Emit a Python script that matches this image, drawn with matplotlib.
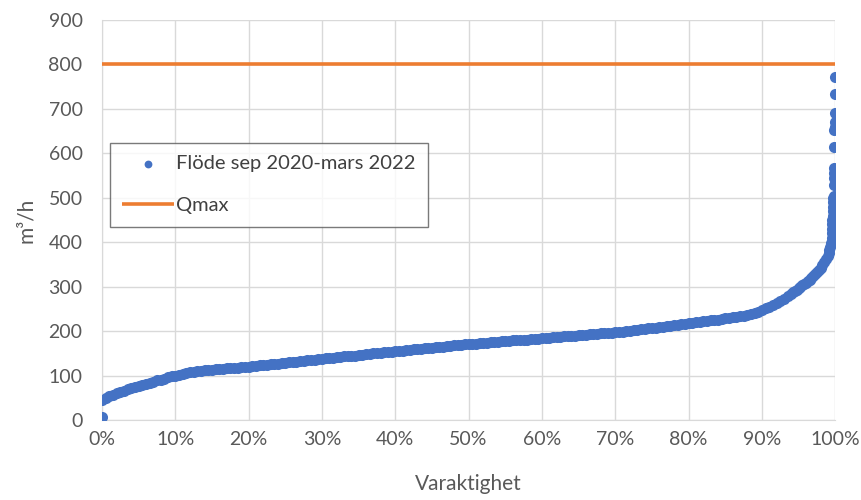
#!/usr/bin/env python3
"""
Varaktighetsdiagram: flöde sep 2020 - mars 2022 jämfört med Qmax.
"""

import matplotlib
matplotlib.use('Agg')
import matplotlib.pyplot as plt
from matplotlib.ticker import PercentFormatter

plt.rcParams.update({
    'font.family': ['Lato', 'DejaVu Sans'],
    'font.size': 14,
    'axes.edgecolor': '#D9D9D9',
    'xtick.color': '#595959',
    'ytick.color': '#595959',
    'axes.labelcolor': '#595959',
})

FLOW_COLOR = '#4472C4'
QMAX_COLOR = '#ED7D31'

# Varaktighet (%)
varaktighet = [
    0.0, 0.0, 0.5, 1.0, 1.5, 2.0, 2.5, 3.0, 3.5, 4.0, 4.5, 5.0, 5.5, 6.0, 6.5, 7.0, 7.5, 8.0, 8.5, 9.0, 9.5,
    10.0, 10.5, 11.0, 11.5, 12.0, 12.5, 13.0, 13.5, 14.0, 14.5, 15.0, 15.5, 16.0, 16.5, 17.0, 17.5, 18.0, 18.5, 19.0, 19.5,
    20.0, 20.5, 21.0, 21.5, 22.0, 22.5, 23.0, 23.5, 24.0, 24.5, 25.0, 25.5, 26.0, 26.5, 27.0, 27.5, 28.0, 28.5, 29.0, 29.5,
    30.0, 30.5, 31.0, 31.5, 32.0, 32.5, 33.0, 33.5, 34.0, 34.5, 35.0, 35.5, 36.0, 36.5, 37.0, 37.5, 38.0, 38.5, 39.0, 39.5,
    40.0, 40.5, 41.0, 41.5, 42.0, 42.5, 43.0, 43.5, 44.0, 44.5, 45.0, 45.5, 46.0, 46.5, 47.0, 47.5, 48.0, 48.5, 49.0, 49.5,
    50.0, 50.5, 51.0, 51.5, 52.0, 52.5, 53.0, 53.5, 54.0, 54.5, 55.0, 55.5, 56.0, 56.5, 57.0, 57.5, 58.0, 58.5, 59.0, 59.5,
    60.0, 60.5, 61.0, 61.5, 62.0, 62.5, 63.0, 63.5, 64.0, 64.5, 65.0, 65.5, 66.0, 66.5, 67.0, 67.5, 68.0, 68.5, 69.0, 69.5,
    70.0, 70.5, 71.0, 71.5, 72.0, 72.5, 73.0, 73.5, 74.0, 74.5, 75.0, 75.5, 76.0, 76.5, 77.0, 77.5, 78.0, 78.5, 79.0, 79.5,
    80.0, 80.5, 81.0, 81.5, 82.0, 82.5, 83.0, 83.5, 84.0, 84.5, 85.0, 85.5, 86.0, 86.5, 87.0, 87.5, 88.0, 88.5, 89.0, 89.5,
    90.0, 90.5, 91.0, 91.5, 92.0, 92.5, 93.0, 93.5, 94.0, 94.25, 94.5, 94.75, 95.0, 95.25, 95.5, 95.75, 96.0, 96.25,
    96.5, 96.75, 97.0, 97.25, 97.5, 97.75, 98.0, 98.25, 98.5, 98.75, 99.0, 99.1,
    99.2, 99.3, 99.4, 99.5, 99.53, 99.56, 99.59, 99.62, 99.65, 99.68, 99.7, 99.72, 99.74,
    99.78, 99.8, 99.82, 99.84, 99.86, 99.88, 99.9, 99.92, 99.94, 99.96, 99.98, 100.0,
]

# Flöde (m3/h)
flode = [
    7, 45, 50, 53, 57, 60, 63, 66, 69, 72, 74, 76, 79, 81, 84, 86, 89, 91, 93, 96, 98,
    100, 102, 104, 106, 108, 109, 110, 111, 112, 113, 113, 114, 115, 115, 116, 117, 117, 118, 119, 119,
    120, 121, 122, 123, 124, 124, 125, 126, 127, 128, 129, 130, 131, 131, 132, 133, 134, 135, 136, 137,
    138, 139, 140, 140, 141, 142, 143, 144, 145, 145, 146, 147, 148, 149, 150, 150, 151, 152, 153, 154,
    155, 156, 156, 157, 158, 159, 160, 160, 161, 162, 163, 164, 164, 165, 166, 167, 168, 168, 169, 170,
    171, 171, 172, 173, 173, 174, 175, 175, 176, 177, 177, 178, 179, 179, 180, 181, 181, 182, 183, 183,
    184, 185, 185, 186, 187, 187, 188, 189, 189, 190, 191, 191, 192, 193, 193, 194, 195, 195, 196, 196,
    197, 198, 199, 200, 201, 202, 203, 204, 205, 206, 207, 208, 209, 210, 211, 212, 213, 214, 215, 216,
    218, 219, 220, 221, 222, 223, 224, 225, 226, 227, 229, 230, 231, 232, 234, 235, 237, 238, 240, 242,
    247, 251, 255, 259, 263, 267, 272, 278, 284, 287, 290, 293, 297, 300, 303, 306, 309, 312,
    316, 320, 324, 328, 333, 338, 343, 349, 355, 362, 370, 376,
    382, 390, 398, 410, 420, 430, 440, 450, 460, 470, 480, 490, 500,
    503, 529, 544, 555, 566, 615, 652, 659, 670, 691, 733, 771,
]

QMAX = 800
qmax_x = [0, 100]

x_ticks = list(range(0, 101, 10))
y_ticks = list(range(0, 901, 100))


def main():
    fig = plt.figure(figsize=(8.61, 5.0), dpi=100)
    ax = fig.add_axes([0.1185, 0.16, 0.8515, 0.80])

    ax.plot(qmax_x, [QMAX, QMAX], color=QMAX_COLOR, linewidth=2.6,
            label='Qmax', zorder=3, solid_capstyle='butt')
    ax.scatter(varaktighet, flode, s=64, color=FLOW_COLOR, linewidths=0,
               label='Flöde sep 2020-mars 2022', zorder=4)

    ax.set_xlim(0, 100)
    ax.set_ylim(0, 900)
    ax.set_xticks(x_ticks)
    ax.set_yticks(y_ticks)
    ax.xaxis.set_major_formatter(PercentFormatter(decimals=0))
    ax.tick_params(axis='both', length=0, labelsize=14)
    ax.tick_params(axis='y', pad=14)
    ax.tick_params(axis='x', pad=8)

    ax.grid(True, color='#D9D9D9', linewidth=1)
    ax.set_axisbelow(True)
    for side in ('top', 'right'):
        ax.spines[side].set_visible(False)
    ax.spines['left'].set_color('#D9D9D9')
    ax.spines['bottom'].set_color('#D9D9D9')

    ax.set_xlabel('Varaktighet', fontsize=15, labelpad=19)
    ax.set_ylabel('m³/h', fontsize=15, labelpad=9)

    handles, labels = ax.get_legend_handles_labels()
    leg = ax.legend(handles[::-1], labels[::-1], loc='upper left',
                    bbox_to_anchor=(110 / 861, 1 - 143 / 500),
                    bbox_transform=fig.transFigure, borderaxespad=0,
                    fontsize=14.5, frameon=True, fancybox=False,
                    edgecolor='#595959', labelspacing=1.25,
                    handlelength=2.6, handletextpad=0.1, borderpad=0.6,
                    labelcolor='#404040', markerscale=0.7)
    leg.get_frame().set_linewidth(1.0)

    fig.savefig('out.png', dpi=100)
    plt.close(fig)


if __name__ == '__main__':
    main()
